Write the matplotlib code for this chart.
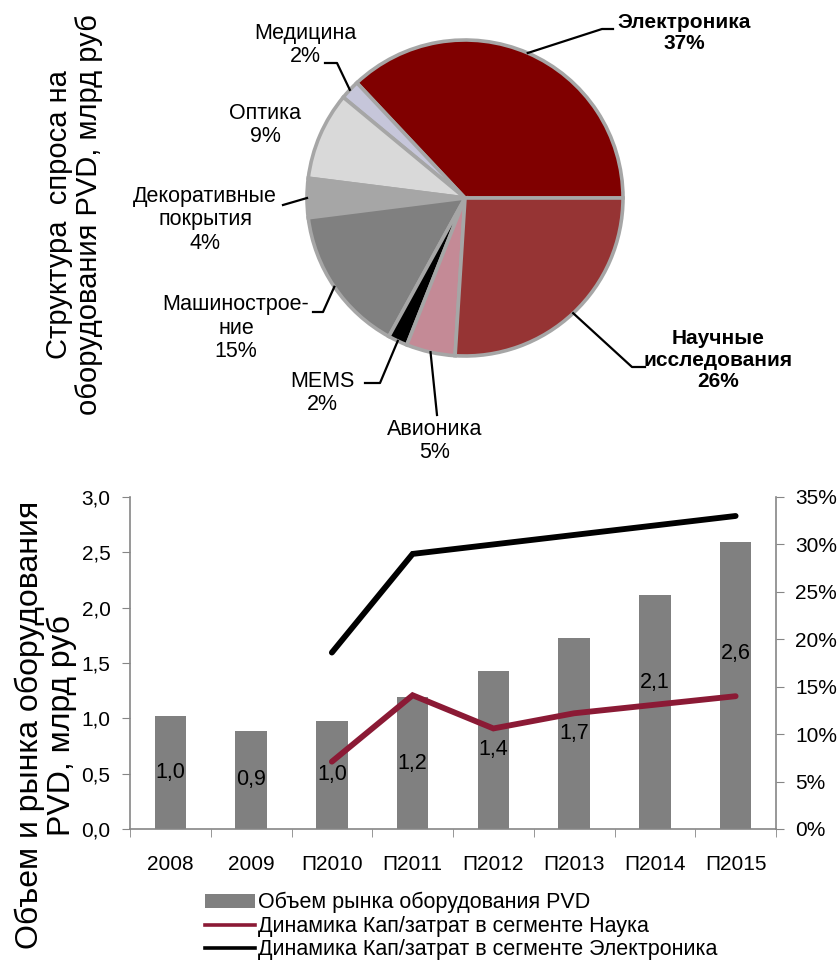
import numpy as np
import matplotlib
matplotlib.use("Agg")
import matplotlib.pyplot as plt
from matplotlib.patches import Patch
from matplotlib.lines import Line2D
from matplotlib.ticker import FuncFormatter, FixedLocator

plt.rcParams['font.family'] = ['Liberation Sans', 'DejaVu Sans']

# --- данные: структура спроса ---
pie_labels = ["Электроника", "Медицина", "Оптика", "Декоративные\nпокрытия",
              "Машинострое-\nние", "MEMS", "Авионика", "Научные\nисследования"]
pie_values = [37, 2, 9, 4, 15, 2, 5, 26]
pie_colors = ["#800000", "#C6C6DA", "#D9D9D9", "#A6A6A6",
              "#808080", "#000000", "#C48A96", "#963434"]
pie_bold = [True, False, False, False, False, False, False, True]

# --- данные: рынок PVD ---
years = ["2008", "2009", "П2010", "П2011", "П2012", "П2013", "П2014", "П2015"]
market = [1.02, 0.89, 0.98, 1.19, 1.43, 1.73, 2.11, 2.59]
market_labels = ["1,0", "0,9", "1,0", "1,2", "1,4", "1,7", "2,1", "2,6"]
science = [None, None, 7.1, 14.1, 10.6, 12.2, 13.1, 14.0]
electronics = [None, None, 18.6, 29.0, 30.0, 31.0, 32.0, 33.0]

W, H = 840, 966
fig = plt.figure(figsize=(W / 100, H / 100), dpi=100)

# ---------------- круговая диаграмма ----------------
cx, cy, R = 465, 198, 158
box = 160
ax_pie = fig.add_axes([(cx - box) / W, (H - cy - box) / H, 2 * box / W, 2 * box / H])
wedges, _ = ax_pie.pie(pie_values, colors=pie_colors, startangle=0, counterclock=True,
                       radius=R / box,
                       wedgeprops=dict(edgecolor="#A6A6A6", linewidth=2.6))
ax_pie.set_xlim(-1, 1)
ax_pie.set_ylim(-1, 1)
ax_pie.axis("off")

# слой для подписей в пикселях
ov = fig.add_axes([0, 0, 1, 1], zorder=5)
ov.set_xlim(0, W)
ov.set_ylim(H, 0)
ov.axis("off")
ov.patch.set_alpha(0)

# положение подписей и изломы выносок (пиксели)
text_pos = [(684, 33), (305, 45), (265, 125), (205, 220),
            (236, 328), (322, 393), (435, 441), (718, 360)]
leaders = [[(602, 29), (613, 29)],
           [(337, 63), (325, 63)],
           None,
           [(283, 205)],
           [(323, 312), (313, 312)],
           [(380, 383), (365, 383)],
           [(437, 415)],
           [(632, 367), (645, 367)]]

for i, w in enumerate(wedges):
    txt = f"{pie_labels[i]}\n{pie_values[i]}%"
    ov.text(text_pos[i][0], text_pos[i][1], txt, ha="center", va="center",
            fontsize=15 if pie_bold[i] else 15.5,
            fontweight="bold" if pie_bold[i] else "normal", linespacing=1.15)
    if leaders[i] is not None:
        mid = np.deg2rad((w.theta1 + w.theta2) / 2)
        px = cx + R * np.cos(mid)
        py = cy - R * np.sin(mid)
        pts = [(px, py)] + leaders[i]
        ov.plot([p[0] for p in pts], [p[1] for p in pts], color="black", lw=1.6)

fig.text(74 / W, 1 - 215 / H, "Структура  спроса на\nоборудования PVD, млрд руб",
         rotation=90, ha="center", va="center", fontsize=21, linespacing=1.12)

# ---------------- столбцы и линии ----------------
ax = fig.add_axes([130 / W, 1 - 829 / H, 646 / W, 332 / H])
x = np.arange(len(years))
ax.bar(x, market, width=0.39, color="#808080", zorder=2)
ax.set_xlim(-0.5, len(years) - 0.5)
ax.set_ylim(0, 3.0)
ax.set_yticks(np.arange(0, 3.01, 0.5))
ax.yaxis.set_major_formatter(FuncFormatter(lambda v, p: f"{v:.1f}".replace(".", ",")))
ax.set_xticks(x)
ax.set_xticklabels(years)
ax.xaxis.set_minor_locator(FixedLocator(np.arange(-0.5, len(years), 1.0)))
ax.tick_params(axis="x", which="major", length=0, pad=19, labelsize=15)
ax.tick_params(axis="x", which="minor", length=6, color="#868686", direction="out")
ax.tick_params(axis="y", length=6, color="#868686", labelsize=15, pad=8)
for s in ["top", "right"]:
    ax.spines[s].set_visible(False)
for s in ["left", "bottom"]:
    ax.spines[s].set_color("#868686")
    ax.spines[s].set_linewidth(1.2)

label_y = [v / 2 for v in market]
label_y[6] = 1.32
label_y[7] = 1.59
for xi, ly, t in zip(x, label_y, market_labels):
    ax.text(xi, ly, t, ha="center", va="center", fontsize=15.5, zorder=3)

ax2 = ax.twinx()
ax2.set_ylim(0, 35)
ax2.set_yticks(np.arange(0, 36, 5))
ax2.yaxis.set_major_formatter(FuncFormatter(lambda v, p: f"{v:.0f}%"))
ax2.tick_params(axis="y", length=6, color="#868686", labelsize=15, pad=8)
for s in ["top", "left", "bottom"]:
    ax2.spines[s].set_visible(False)
ax2.spines["right"].set_color("#868686")
ax2.spines["right"].set_linewidth(1.2)

xs = [xi for xi, v in zip(x, science) if v is not None]
ax2.plot(xs, [v for v in science if v is not None], color="#8B1A35", lw=4.2,
         solid_capstyle="round", solid_joinstyle="miter", zorder=4)
xe = [xi for xi, v in zip(x, electronics) if v is not None]
ax2.plot(xe, [v for v in electronics if v is not None], color="black", lw=4.2,
         solid_capstyle="round", solid_joinstyle="miter", zorder=4)

fig.text(46 / W, 1 - 725 / H, "Объем и рынка оборудования\nPVD, млрд руб",
         rotation=90, ha="center", va="center", fontsize=23, linespacing=1.05)

handles = [Patch(facecolor="#808080", edgecolor="none"),
           Line2D([], [], color="#8B1A35", lw=2.6),
           Line2D([], [], color="black", lw=2.6)]
names = ["Объем рынка оборудования PVD",
         "Динамика Кап/затрат в сегменте Наука",
         "Динамика Кап/затрат в сегменте Электроника"]
fig.legend(handles, names, loc="upper left", bbox_to_anchor=(205 / W, 1 - 892 / H),
           frameon=False, fontsize=15.5, borderpad=0, borderaxespad=0,
           handlelength=2.3, handleheight=0.6, handletextpad=0.15, labelspacing=0.12)

fig.savefig("out.png", dpi=100)
